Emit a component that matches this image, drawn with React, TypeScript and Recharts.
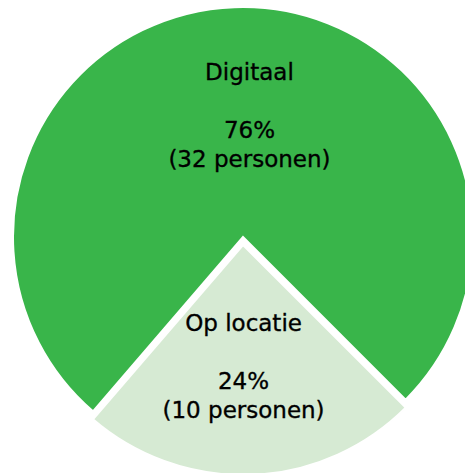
import React from 'react';
import { PieChart, Pie, Cell } from 'recharts';

// data
const categories = ['Digitaal', 'Op locatie'];
const persons = [32, 10];
const percentLabels = ['76%', '24%'];
const colors = ['#39b54a', '#d6ead3'];

const RADIAN = Math.PI / 180;
const LABEL_DX = [11, -4];

const chartData = categories.map((name, i) => ({ name, value: persons[i] }));

// label renderer: only draws for the slice that belongs to this pie
const makeLabel = (onlyIndex: number) => (props: any) => {
  const { cx, cy, midAngle, outerRadius, index } = props;
  if (index !== onlyIndex) return null;
  const r = outerRadius * 0.53;
  const x = cx + r * Math.cos(-midAngle * RADIAN) + LABEL_DX[index];
  const y = cy + r * Math.sin(-midAngle * RADIAN);
  const top = y - 43.5;
  return (
    <text
      x={x}
      y={top}
      textAnchor="middle"
      dominantBaseline="central"
      fill="#000"
      stroke="#000"
      strokeWidth={0.35}
      style={{ fontFamily: '"DejaVu Sans", sans-serif', fontSize: 23 }}
    >
      <tspan x={x} y={top}>{categories[index]}</tspan>
      <tspan x={x} y={top + 58}>{percentLabels[index]}</tspan>
      <tspan x={x} y={top + 87}>{`(${persons[index]} personen)`}</tspan>
    </text>
  );
};

export default function App() {
  return (
    <div style={{ width: 465, height: 473, overflow: 'hidden' }}>
      <style>{`body{margin:0;overflow:hidden;}`}</style>
      <PieChart width={465} height={473} margin={{ top: 0, right: 0, bottom: 0, left: 0 }}>
        {/* Digitaal */}
        <Pie
          data={chartData}
          dataKey="value"
          cx={243}
          cy={237}
          outerRadius={230}
          startAngle={-45}
          endAngle={315}
          stroke="#fff"
          strokeWidth={2}
          labelLine={false}
          label={makeLabel(0)}
          isAnimationActive={false}
        >
          {chartData.map((d, i) => (
            <Cell key={d.name} fill={i === 0 ? colors[0] : 'none'} stroke={i === 0 ? '#fff' : 'none'} />
          ))}
        </Pie>
        {/* Op locatie, iets naar buiten geschoven */}
        <Pie
          data={chartData}
          dataKey="value"
          cx={243}
          cy={245}
          outerRadius={230}
          startAngle={-45}
          endAngle={315}
          stroke="#fff"
          strokeWidth={2}
          labelLine={false}
          label={makeLabel(1)}
          isAnimationActive={false}
        >
          {chartData.map((d, i) => (
            <Cell key={d.name} fill={i === 1 ? colors[1] : 'none'} stroke={i === 1 ? '#fff' : 'none'} />
          ))}
        </Pie>
      </PieChart>
    </div>
  );
}
